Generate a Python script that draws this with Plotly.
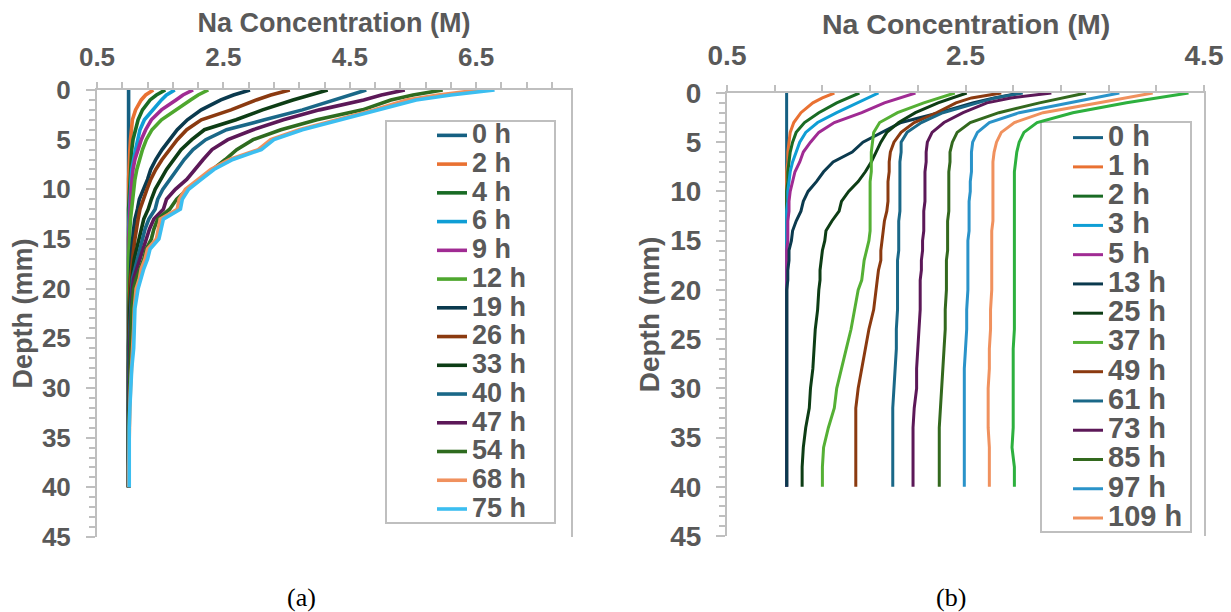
import plotly.graph_objects as go

# ---------------- data ----------------
DEPTH = [0, 0.5, 1, 2, 3, 4, 5, 6, 7, 8, 9, 10, 11, 12, 13, 14,
         15, 16, 17, 18, 19, 20, 22, 24, 26, 28, 30, 32, 34, 36, 38, 40]

# Panel (a)
A_LABELS = ["0 h", "2 h", "4 h", "6 h", "9 h", "12 h", "19 h", "26 h",
            "33 h", "40 h", "47 h", "54 h", "68 h", "75 h"]
A_COLORS = ["#156082", "#E97132", "#196B24", "#0F9ED5", "#A02B93", "#4EA72E",
            "#0B3A4E", "#8B3A10", "#0D3D15", "#1A6888", "#5C1858", "#2E6B1F",
            "#F0915E", "#3CBEF0"]
a_0h = [1.00, 1.00, 1.00, 1.00, 1.00, 1.00, 1.00, 1.00,
        1.00, 1.00, 1.00, 1.00, 1.00, 1.00, 1.00, 1.00,
        1.00, 1.00, 1.00, 1.00, 1.00, 1.00, 1.00, 1.00,
        1.00, 1.00, 1.00, 1.00, 1.00, 1.00, 1.00, 1.00]
a_2h = [1.39, 1.27, 1.20, 1.11, 1.06, 1.04, 1.03, 1.02,
        1.01, 1.01, 1.00, 1.00, 1.00, 1.00, 1.00, 1.00,
        1.00, 1.00, 1.00, 1.00, 1.00, 1.00, 1.00, 1.00,
        1.00, 1.00, 1.00, 1.00, 1.00, 1.00, 1.00, 1.00]
a_4h = [1.58, 1.44, 1.34, 1.22, 1.15, 1.11, 1.07, 1.05,
        1.04, 1.03, 1.02, 1.01, 1.01, 1.00, 1.00, 1.00,
        1.00, 1.00, 1.00, 1.00, 1.00, 1.00, 1.00, 1.00,
        1.00, 1.00, 1.00, 1.00, 1.00, 1.00, 1.00, 1.00]
a_6h = [1.73, 1.60, 1.52, 1.38, 1.25, 1.18, 1.14, 1.11,
        1.08, 1.05, 1.04, 1.03, 1.02, 1.01, 1.01, 1.00,
        1.00, 1.00, 1.00, 1.00, 1.00, 1.00, 1.00, 1.00,
        1.00, 1.00, 1.00, 1.00, 1.00, 1.00, 1.00, 1.00]
a_9h = [2.02, 1.86, 1.75, 1.52, 1.36, 1.27, 1.20, 1.15,
        1.10, 1.07, 1.05, 1.04, 1.03, 1.02, 1.01, 1.01,
        1.00, 1.00, 1.00, 1.00, 1.00, 1.00, 1.00, 1.00,
        1.00, 1.00, 1.00, 1.00, 1.00, 1.00, 1.00, 1.00]
a_12h = [2.26, 2.10, 1.98, 1.74, 1.52, 1.37, 1.28, 1.22,
         1.17, 1.13, 1.10, 1.08, 1.06, 1.04, 1.03, 1.02,
         1.01, 1.01, 1.00, 1.00, 1.00, 1.00, 1.00, 1.00,
         1.00, 1.00, 1.00, 1.00, 1.00, 1.00, 1.00, 1.00]
a_19h = [2.92, 2.66, 2.46, 2.15, 1.93, 1.77, 1.65, 1.53,
         1.43, 1.35, 1.30, 1.23, 1.17, 1.14, 1.10, 1.08,
         1.06, 1.05, 1.04, 1.03, 1.02, 1.02, 1.01, 1.00,
         1.00, 1.00, 1.00, 1.00, 1.00, 1.00, 1.00, 1.00]
a_26h = [3.55, 3.25, 3.02, 2.62, 2.15, 1.92, 1.77, 1.65,
         1.53, 1.43, 1.35, 1.29, 1.23, 1.18, 1.15, 1.12,
         1.10, 1.08, 1.06, 1.04, 1.03, 1.02, 1.01, 1.01,
         1.00, 1.00, 1.00, 1.00, 1.00, 1.00, 1.00, 1.00]
a_33h = [4.15, 3.85, 3.60, 3.12, 2.70, 2.20, 2.00, 1.83,
         1.71, 1.60, 1.51, 1.42, 1.36, 1.31, 1.24, 1.20,
         1.16, 1.12, 1.09, 1.07, 1.05, 1.04, 1.02, 1.01,
         1.01, 1.00, 1.00, 1.00, 1.00, 1.00, 1.00, 1.00]
a_40h = [4.76, 4.50, 4.25, 3.75, 3.15, 2.55, 2.22, 2.02,
         1.88, 1.77, 1.65, 1.54, 1.46, 1.42, 1.32, 1.26,
         1.22, 1.18, 1.13, 1.09, 1.06, 1.05, 1.03, 1.02,
         1.01, 1.00, 1.00, 1.00, 1.00, 1.00, 1.00, 1.00]
a_47h = [5.37, 5.00, 4.72, 4.02, 3.45, 2.97, 2.57, 2.32,
         2.18, 2.05, 1.92, 1.74, 1.60, 1.55, 1.40, 1.33,
         1.28, 1.22, 1.18, 1.12, 1.08, 1.06, 1.04, 1.03,
         1.02, 1.01, 1.00, 1.00, 1.00, 1.00, 1.00, 1.00]
a_54h = [5.97, 5.50, 5.15, 4.70, 3.98, 3.41, 2.97, 2.71,
         2.53, 2.33, 2.13, 1.93, 1.76, 1.65, 1.46, 1.40,
         1.36, 1.28, 1.24, 1.18, 1.12, 1.08, 1.05, 1.04,
         1.03, 1.02, 1.01, 1.00, 1.00, 1.00, 1.00, 1.00]
a_68h = [6.55, 5.90, 5.40, 4.88, 4.30, 3.70, 3.25, 3.05,
         2.60, 2.30, 2.10, 1.90, 1.80, 1.77, 1.50, 1.47,
         1.44, 1.30, 1.26, 1.20, 1.17, 1.12, 1.09, 1.08,
         1.06, 1.05, 1.03, 1.02, 1.01, 1.01, 1.00, 1.00]
a_75h = [6.79, 6.10, 5.55, 4.95, 4.35, 3.75, 3.30, 3.10,
         2.65, 2.35, 2.15, 1.95, 1.85, 1.82, 1.55, 1.52,
         1.48, 1.34, 1.30, 1.24, 1.20, 1.15, 1.10, 1.09,
         1.08, 1.05, 1.03, 1.02, 1.01, 1.01, 1.01, 1.01]
A_SERIES = [a_0h, a_2h, a_4h, a_6h, a_9h, a_12h, a_19h, a_26h,
            a_33h, a_40h, a_47h, a_54h, a_68h, a_75h]

# Panel (b)
B_LABELS = ["0 h", "1 h", "2 h", "3 h", "5 h", "13 h", "25 h", "37 h",
            "49 h", "61 h", "73 h", "85 h", "97 h", "109 h", ""]
B_COLORS = ["#156082", "#E97132", "#196B24", "#0F9ED5", "#A02B93", "#0B3A4E",
            "#0D3D15", "#55B035", "#8B3A10", "#1A6888", "#5C1858", "#33691E",
            "#2A93C9", "#F0915E", "#2DB03E"]
b_0h = [1.00, 1.00, 1.00, 1.00, 1.00, 1.00, 1.00, 1.00,
        1.00, 1.00, 1.00, 1.00, 1.00, 1.00, 1.00, 1.00,
        1.00, 1.00, 1.00, 1.00, 1.00, 1.00, 1.00, 1.00,
        1.00, 1.00, 1.00, 1.00, 1.00, 1.00, 1.00, 1.00]
b_1h = [1.40, 1.30, 1.22, 1.12, 1.06, 1.03, 1.02, 1.01,
        1.01, 1.00, 1.00, 1.00, 1.00, 1.00, 1.00, 1.00,
        1.00, 1.00, 1.00, 1.00, 1.00, 1.00, 1.00, 1.00,
        1.00, 1.00, 1.00, 1.00, 1.00, 1.00, 1.00, 1.00]
b_2h = [1.61, 1.51, 1.42, 1.27, 1.15, 1.08, 1.05, 1.03,
        1.02, 1.01, 1.01, 1.00, 1.00, 1.00, 1.00, 1.00,
        1.00, 1.00, 1.00, 1.00, 1.00, 1.00, 1.00, 1.00,
        1.00, 1.00, 1.00, 1.00, 1.00, 1.00, 1.00, 1.00]
b_3h = [1.77, 1.68, 1.60, 1.42, 1.26, 1.16, 1.11, 1.08,
        1.05, 1.03, 1.02, 1.01, 1.01, 1.00, 1.00, 1.00,
        1.00, 1.00, 1.00, 1.00, 1.00, 1.00, 1.00, 1.00,
        1.00, 1.00, 1.00, 1.00, 1.00, 1.00, 1.00, 1.00]
b_5h = [2.08, 1.95, 1.82, 1.63, 1.40, 1.27, 1.20, 1.14,
        1.11, 1.07, 1.05, 1.03, 1.02, 1.02, 1.01, 1.01,
        1.01, 1.00, 1.00, 1.00, 1.00, 1.00, 1.00, 1.00,
        1.00, 1.00, 1.00, 1.00, 1.00, 1.00, 1.00, 1.00]
b_13h = [2.96, 2.74, 2.56, 2.28, 1.96, 1.80, 1.64, 1.55,
         1.39, 1.31, 1.25, 1.18, 1.14, 1.12, 1.08, 1.05,
         1.04, 1.02, 1.02, 1.01, 1.01, 1.00, 1.00, 1.00,
         1.00, 1.00, 1.00, 1.00, 1.00, 1.00, 1.00, 1.00]
b_25h = [2.51, 2.38, 2.27, 2.08, 1.94, 1.84, 1.79, 1.75,
         1.71, 1.66, 1.60, 1.52, 1.46, 1.44, 1.38, 1.33,
         1.32, 1.30, 1.29, 1.28, 1.28, 1.27, 1.26, 1.24,
         1.23, 1.22, 1.20, 1.19, 1.16, 1.14, 1.13, 1.13]
b_37h = [2.41, 2.28, 2.15, 1.93, 1.78, 1.73, 1.72, 1.71,
         1.71, 1.71, 1.70, 1.70, 1.70, 1.70, 1.70, 1.70,
         1.69, 1.67, 1.65, 1.64, 1.63, 1.60, 1.57, 1.54,
         1.50, 1.46, 1.42, 1.40, 1.35, 1.31, 1.30, 1.30]
b_49h = [2.80, 2.55, 2.42, 2.26, 2.07, 1.96, 1.90, 1.87,
         1.86, 1.86, 1.85, 1.85, 1.85, 1.84, 1.82, 1.81,
         1.80, 1.79, 1.79, 1.77, 1.76, 1.75, 1.73, 1.69,
         1.66, 1.63, 1.60, 1.58, 1.58, 1.58, 1.58, 1.58]
b_61h = [2.98, 2.75, 2.60, 2.31, 2.13, 2.01, 1.96, 1.96,
         1.95, 1.95, 1.95, 1.95, 1.95, 1.95, 1.94, 1.94,
         1.94, 1.94, 1.93, 1.93, 1.93, 1.93, 1.93, 1.92,
         1.92, 1.91, 1.90, 1.89, 1.89, 1.89, 1.89, 1.89]
b_73h = [3.22, 2.88, 2.68, 2.48, 2.32, 2.22, 2.18, 2.17,
         2.17, 2.16, 2.16, 2.16, 2.16, 2.15, 2.15, 2.15,
         2.14, 2.14, 2.13, 2.13, 2.12, 2.12, 2.12, 2.11,
         2.10, 2.09, 2.09, 2.07, 2.06, 2.06, 2.06, 2.06]
b_85h = [3.51, 3.30, 3.12, 2.78, 2.54, 2.43, 2.39, 2.37,
         2.37, 2.36, 2.36, 2.36, 2.36, 2.36, 2.35, 2.35,
         2.35, 2.35, 2.34, 2.34, 2.34, 2.34, 2.33, 2.33,
         2.32, 2.31, 2.30, 2.29, 2.28, 2.28, 2.28, 2.28]
b_97h = [3.79, 3.58, 3.40, 2.95, 2.70, 2.60, 2.56, 2.55,
         2.55, 2.55, 2.54, 2.54, 2.53, 2.53, 2.53, 2.53,
         2.52, 2.52, 2.52, 2.52, 2.52, 2.52, 2.51, 2.51,
         2.50, 2.49, 2.49, 2.49, 2.49, 2.49, 2.49, 2.49]
b_109h = [4.07, 3.85, 3.62, 3.15, 2.91, 2.80, 2.76, 2.74,
          2.73, 2.73, 2.73, 2.73, 2.73, 2.73, 2.73, 2.72,
          2.72, 2.72, 2.72, 2.72, 2.72, 2.72, 2.71, 2.71,
          2.70, 2.70, 2.69, 2.69, 2.69, 2.70, 2.70, 2.70]
b_last = [4.37, 4.10, 3.85, 3.40, 3.10, 2.99, 2.95, 2.93,
          2.92, 2.91, 2.91, 2.91, 2.91, 2.91, 2.91, 2.91,
          2.91, 2.91, 2.91, 2.91, 2.91, 2.91, 2.91, 2.91,
          2.90, 2.90, 2.90, 2.90, 2.90, 2.89, 2.91, 2.91]
B_SERIES = [b_0h, b_1h, b_2h, b_3h, b_5h, b_13h, b_25h, b_37h,
            b_49h, b_61h, b_73h, b_85h, b_97h, b_109h, b_last]

X_TITLE = "Na Concentration (M)"
Y_TITLE = "Depth (mm)"
A_XTICKS = [0.5, 2.5, 4.5, 6.5]
B_XTICKS = [0.5, 2.5, 4.5]

# ---------------- figure ----------------
W, H = 1231, 612
GRAY = "#595959"
AXC = "#BFBFBF"
FONT = "Arial, Liberation Sans, sans-serif"
SERIF = "Liberation Serif, Times New Roman, serif"

fig = go.Figure()

for name, vals, col in zip(A_LABELS, A_SERIES, A_COLORS):
    fig.add_trace(go.Scatter(
        x=vals, y=DEPTH, mode="lines", xaxis="x", yaxis="y",
        name=f'<span style="font-size:27px">{name}</span>',
        line=dict(color=col, width=3.6), legend="legend"))

for name, vals, col in zip(B_LABELS, B_SERIES, B_COLORS):
    fig.add_trace(go.Scatter(
        x=vals, y=DEPTH, mode="lines", xaxis="x2", yaxis="y2",
        name=f'<span style="font-size:29px">{name}</span>',
        showlegend=bool(name),
        line=dict(color=col, width=3.0), legend="legend2"))


def xaxis_cfg(domain, rng, ticks, anchor, title, size_t, size_l, standoff, lstand):
    return dict(
        domain=domain, range=rng, side="top", anchor=anchor, automargin=False,
        tickmode="array", tickvals=ticks, ticktext=[f"{t:.1f}" for t in ticks],
        showline=True, linecolor=AXC, linewidth=2,
        ticks="outside", ticklen=6, tickwidth=1.5, tickcolor=AXC,
        minor=dict(tickmode="linear", tick0=0.5, dtick=0.4, ticks="outside",
                   ticklen=6, tickwidth=1.5, tickcolor=AXC),
        showgrid=False, zeroline=False, ticklabelstandoff=lstand,
        tickfont=dict(family=FONT, size=size_l, color=GRAY, weight="bold"),
        title=dict(text=title, standoff=standoff,
                   font=dict(family=FONT, size=size_t, color=GRAY, weight="bold")),
        fixedrange=True)


def yaxis_cfg(domain, anchor, size_t, size_l, standoff, lstand):
    return dict(
        domain=domain, range=[45, 0], anchor=anchor, automargin=False,
        tickmode="linear", tick0=0, dtick=5,
        showline=True, linecolor=AXC, linewidth=2, mirror=True,
        ticks="outside", ticklen=9, tickwidth=1.5, tickcolor=AXC,
        minor=dict(tickmode="linear", tick0=0, dtick=1, ticks="outside",
                   ticklen=6, tickwidth=1.5, tickcolor=AXC),
        showgrid=False, zeroline=False, ticklabelstandoff=lstand,
        tickfont=dict(family=FONT, size=size_l, color=GRAY, weight="bold"),
        title=dict(text=Y_TITLE, standoff=standoff,
                   font=dict(family=FONT, size=size_t, color=GRAY, weight="bold")),
        fixedrange=True)


fig.update_layout(
    width=W, height=H, autosize=False,
    margin=dict(l=0, r=0, t=0, b=0, autoexpand=False),
    paper_bgcolor="white", plot_bgcolor="white",
    xaxis=xaxis_cfg([97 / W, 571 / W], [0.5, 8.0], A_XTICKS, "y", X_TITLE, 27, 26, 1, 6),
    yaxis=yaxis_cfg([1 - 537 / H, 1 - 90 / H], "x", 27, 26, 1, 10),
    xaxis2=xaxis_cfg([727 / W, 1204 / W], [0.5, 4.5], B_XTICKS, "y2", "", 29, 28, 1, 9),
    yaxis2=yaxis_cfg([1 - 536 / H, 1 - 93 / H], "x2", 28, 28, 2, 9),
    legend=dict(x=432 / W, xanchor="left", y=1 - 116 / H, yanchor="top",
                bgcolor="rgba(0,0,0,0)", borderwidth=0, itemwidth=30,
                font=dict(family=FONT, size=19.8, color=GRAY, weight="bold"),
                traceorder="normal", itemclick=False, itemdoubleclick=False),
    legend2=dict(x=1068 / W, xanchor="left", y=1 - 118 / H, yanchor="top",
                 bgcolor="rgba(0,0,0,0)", borderwidth=0, itemwidth=30,
                 font=dict(family=FONT, size=20.2, color=GRAY, weight="bold"),
                 traceorder="normal", itemclick=False, itemdoubleclick=False),
    shapes=[
        dict(type="rect", xref="paper", yref="paper", layer="below",
             x0=386 / W, x1=555 / W, y0=1 - 523 / H, y1=1 - 121 / H,
             line=dict(color=AXC, width=2), fillcolor="rgba(0,0,0,0)"),
        dict(type="rect", xref="paper", yref="paper", layer="below",
             x0=1041 / W, x1=1191 / W, y0=1 - 532 / H, y1=1 - 122 / H,
             line=dict(color=AXC, width=2), fillcolor="rgba(0,0,0,0)"),
    ],
    annotations=[
        # title of the top axis of panel (b)
        dict(text=X_TITLE, x=965.5 / W, y=1 - 24 / H, xref="paper", yref="paper",
             xanchor="center", yanchor="middle", showarrow=False,
             font=dict(family=FONT, size=28.5, color=GRAY, weight="bold")),
        dict(text="(a)", x=301 / W, y=1 - 597 / H, xref="paper", yref="paper",
             xanchor="center", yanchor="middle", showarrow=False,
             font=dict(family=SERIF, size=26, color="black")),
        dict(text="(b)", x=951 / W, y=1 - 597 / H, xref="paper", yref="paper",
             xanchor="center", yanchor="middle", showarrow=False,
             font=dict(family=SERIF, size=26, color="black")),
    ],
)

fig.write_html("out.html")
